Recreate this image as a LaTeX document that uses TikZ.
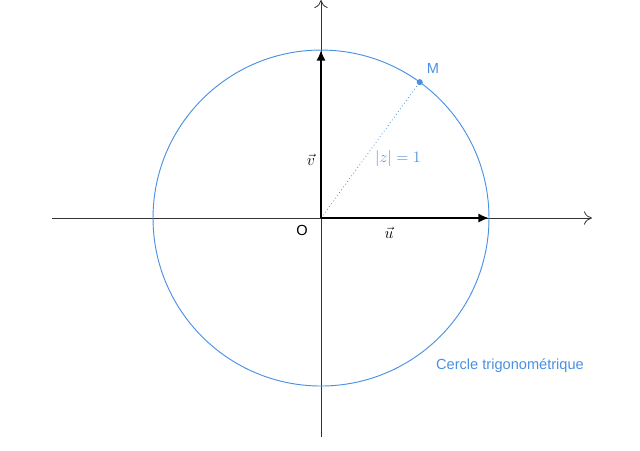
\documentclass[tikz,border=0pt]{standalone}
\usepackage{fontspec}
\setmainfont{Liberation Sans}
\usetikzlibrary{arrows.meta}
\definecolor{trigblue}{HTML}{4A90E2}
\begin{document}
\begin{tikzpicture}[x=4.445cm, y=4.445cm, font=\fontsize{11}{13}\selectfont]
    \useasboundingbox (-1.911, -1.381) rectangle (1.899, 1.298);

    % Axes
    \coordinate (O) at (0, 0);
    \coordinate (xmin) at (-1.601, 0);
    \coordinate (xmax) at (1.613, 0);
    \coordinate (ymin) at (0, -1.304);
    \coordinate (ymax) at (0, 1.298);
    \draw[-{To[length=6pt, width=10pt]}, black!80, line width=0.6pt] (xmin) -- (xmax);
    \draw[-{To[length=6pt, width=10pt]}, black!80, line width=0.6pt] (ymin) -- (ymax);

    % Unit circle
    \draw[trigblue, line width=0.7pt] (O) circle (1);
    \node[trigblue] (title) at (1.125, -0.881) {Cercle trigonométrique};

    % Point M
    \coordinate (M) at (54:1);
    \fill[trigblue] (M) circle (0.018);
    \node[trigblue] (labelM) at (0.667, 0.893) {M};
    \draw[dotted, trigblue, line width=0.6pt] (O) -- (M);
    \node[font=\large, trigblue] (modz) at (0.458, 0.357) {$|z| = 1$};

    % Basis vectors
    \coordinate (U) at (1, 0);
    \coordinate (V) at (0, 1);
    \draw[-{Latex[length=8pt, width=7pt]}, line width=1.6pt] (O) -- (U);
    \draw[-{Latex[length=8pt, width=7pt]}, line width=1.6pt] (O) -- (V);
    \node[font=\large] (vecu) at (0.405, -0.089) {$\vec{u}$};
    \node[font=\large] (vecv) at (-0.06, 0.345) {$\vec{v}$};
    \node (labelO) at (-0.113, -0.077) {O};

\end{tikzpicture}
\end{document}
